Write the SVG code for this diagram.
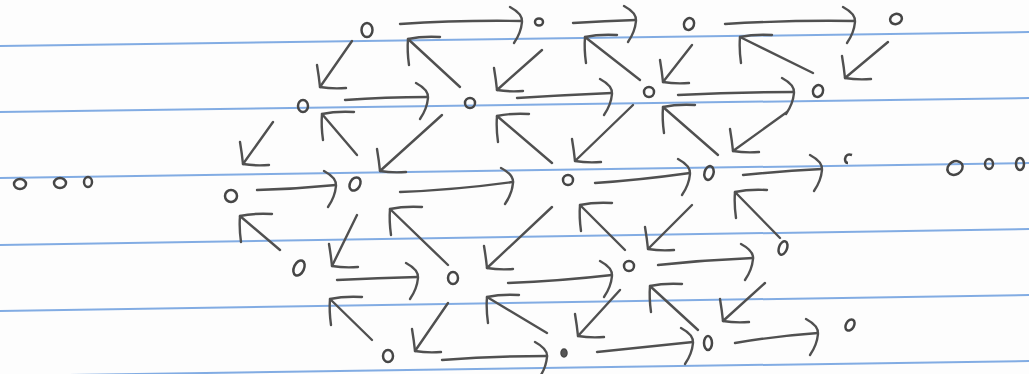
<svg xmlns="http://www.w3.org/2000/svg" width="1029" height="374" viewBox="0 0 1029 374">
  <style>
    .paper { fill: #fdfdfd; }
    .rule { stroke: #74a3e0; stroke-width: 2; fill: none; opacity: 0.9; }
    .node { fill: none; stroke: #464646; stroke-width: 2.5; }
    .dot { fill: #555555; stroke: #464646; stroke-width: 1.5; }
    .edge { fill: none; stroke: #505050; stroke-width: 2.4; stroke-linecap: round; }
    .r { marker-end: url(#curl); }
    .dl { marker-end: url(#headDL); }
    .ul { marker-end: url(#headUL); }
    .mk { fill: none; stroke: #505050; stroke-width: 2.4; stroke-linecap: round; stroke-linejoin: round; }
  </style>
  <defs>
    <marker id="curl" markerUnits="userSpaceOnUse" orient="0" viewBox="-40 -40 80 80" markerWidth="80" markerHeight="80" refX="0" refY="0" overflow="visible">
      <path class="mk" d="M -12,-14 Q 1,-7 0,1 Q -1,12 -8,22"/>
    </marker>
    <marker id="headDL" markerUnits="userSpaceOnUse" orient="0" viewBox="-40 -40 80 80" markerWidth="80" markerHeight="80" refX="0" refY="0" overflow="visible">
      <path class="mk" d="M -3,-22 Q -1,-10 0,0 Q 12,2 26,1"/>
    </marker>
    <marker id="headUL" markerUnits="userSpaceOnUse" orient="0" viewBox="-40 -40 80 80" markerWidth="80" markerHeight="80" refX="0" refY="0" overflow="visible">
      <path class="mk" d="M 1,26 Q -1,12 0,0 Q 14,-3 32,-2"/>
    </marker>
  </defs>

  <rect class="paper" x="0" y="0" width="1029" height="374"/>
  <g id="ruling">
    <line class="rule" x1="0" y1="46" x2="1029" y2="32"/>
    <line class="rule" x1="0" y1="112" x2="1029" y2="98"/>
    <line class="rule" x1="0" y1="178" x2="1029" y2="163"/>
    <line class="rule" x1="0" y1="245" x2="1029" y2="229"/>
    <line class="rule" x1="0" y1="311" x2="1029" y2="295"/>
    <line class="rule" x1="0" y1="376" x2="1029" y2="361"/>
  </g>

  <g id="connectors">
    <!-- horizontal arrows -->
    <path class="edge r" d="M 400,24 Q 460,20 522,21"/>
    <path class="edge r" d="M 573,23 Q 605,21 636,20"/>
    <path class="edge r" d="M 725,24 Q 790,20 855,21"/>
    <path class="edge r" d="M 345,100 Q 385,97 428,97"/>
    <path class="edge r" d="M 517,98 Q 565,95 612,93"/>
    <path class="edge r" d="M 678,95 Q 735,92 794,92"/>
    <path class="edge r" d="M 257,190 Q 296,189 336,185"/>
    <path class="edge r" d="M 400,192 Q 455,190 513,182"/>
    <path class="edge r" d="M 595,183 Q 640,180 690,173"/>
    <path class="edge r" d="M 743,175 Q 782,171 822,169"/>
    <path class="edge r" d="M 337,280 Q 378,278 418,277"/>
    <path class="edge r" d="M 508,283 Q 560,281 612,275"/>
    <path class="edge r" d="M 658,265 Q 705,260 753,258"/>
    <path class="edge r" d="M 442,360 Q 495,356 547,356"/>
    <path class="edge r" d="M 597,352 Q 645,347 693,342"/>
    <path class="edge r" d="M 735,343 Q 776,336 818,333"/>
    <!-- down-left arrows -->
    <line class="edge dl" x1="352" y1="41" x2="320" y2="87"/>
    <line class="edge dl" x1="542" y1="50" x2="497" y2="90"/>
    <line class="edge dl" x1="692" y1="45" x2="663" y2="82"/>
    <line class="edge dl" x1="888" y1="42" x2="845" y2="78"/>
    <line class="edge dl" x1="273" y1="122" x2="243" y2="164"/>
    <line class="edge dl" x1="442" y1="115" x2="380" y2="171"/>
    <line class="edge dl" x1="633" y1="105" x2="575" y2="161"/>
    <line class="edge dl" x1="787" y1="112" x2="733" y2="151"/>
    <line class="edge dl" x1="357" y1="215" x2="332" y2="266"/>
    <line class="edge dl" x1="552" y1="207" x2="487" y2="268"/>
    <line class="edge dl" x1="692" y1="205" x2="648" y2="249"/>
    <line class="edge dl" x1="448" y1="303" x2="415" y2="351"/>
    <line class="edge dl" x1="620" y1="290" x2="578" y2="336"/>
    <line class="edge dl" x1="765" y1="283" x2="723" y2="321"/>
    <!-- up-left arrows -->
    <line class="edge ul" x1="460" y1="87" x2="408" y2="39"/>
    <line class="edge ul" x1="640" y1="80" x2="585" y2="37"/>
    <line class="edge ul" x1="813" y1="73" x2="740" y2="37"/>
    <line class="edge ul" x1="357" y1="155" x2="322" y2="114"/>
    <line class="edge ul" x1="552" y1="163" x2="497" y2="116"/>
    <line class="edge ul" x1="718" y1="155" x2="663" y2="107"/>
    <line class="edge ul" x1="280" y1="250" x2="240" y2="216"/>
    <line class="edge ul" x1="448" y1="265" x2="390" y2="209"/>
    <line class="edge ul" x1="625" y1="250" x2="580" y2="205"/>
    <line class="edge ul" x1="780" y1="238" x2="735" y2="192"/>
    <line class="edge ul" x1="372" y1="340" x2="330" y2="299"/>
    <line class="edge ul" x1="547" y1="333" x2="487" y2="297"/>
    <line class="edge ul" x1="698" y1="330" x2="650" y2="286"/>
  </g>

  <g id="node-A"><ellipse class="node" cx="367" cy="30" rx="5.5" ry="7"/></g>
  <g id="node-B"><ellipse class="node" cx="539" cy="22" rx="4" ry="3.5"/></g>
  <g id="node-C"><ellipse class="node" cx="689" cy="24" rx="5" ry="6" transform="rotate(20 689 24)"/></g>
  <g id="node-D"><ellipse class="node" cx="896" cy="19" rx="6" ry="5" transform="rotate(-20 896 19)"/></g>
  <g id="node-E"><ellipse class="node" cx="303" cy="106" rx="5" ry="6"/></g>
  <g id="node-F"><ellipse class="node" cx="470" cy="103" rx="5" ry="5"/></g>
  <g id="node-G"><ellipse class="node" cx="649" cy="92" rx="5" ry="5"/></g>
  <g id="node-H"><ellipse class="node" cx="818" cy="91" rx="5" ry="6" transform="rotate(20 818 91)"/></g>
  <g id="node-I"><ellipse class="node" cx="231" cy="196" rx="6" ry="6"/></g>
  <g id="node-J"><ellipse class="node" cx="355" cy="184" rx="5" ry="7" transform="rotate(30 355 184)"/></g>
  <g id="node-K"><ellipse class="node" cx="568" cy="180" rx="5" ry="5"/></g>
  <g id="node-L"><ellipse class="node" cx="709" cy="173" rx="4.5" ry="7" transform="rotate(15 709 173)"/></g>
  <g id="node-M"><path class="node" d="M 852,155 Q 846,153 845,159 Q 845,163 848,163"/></g>
  <g id="node-N"><ellipse class="node" cx="299" cy="268" rx="5" ry="8" transform="rotate(25 299 268)"/></g>
  <g id="node-O"><ellipse class="node" cx="453" cy="278" rx="5" ry="6"/></g>
  <g id="node-P"><ellipse class="node" cx="629" cy="266" rx="5" ry="5"/></g>
  <g id="node-Q"><ellipse class="node" cx="783" cy="248" rx="4" ry="7" transform="rotate(20 783 248)"/></g>
  <g id="node-R"><ellipse class="node" cx="388" cy="356" rx="5" ry="6"/></g>
  <g id="node-S"><ellipse class="dot" cx="564" cy="353" rx="3" ry="4"/></g>
  <g id="node-T"><ellipse class="node" cx="708" cy="343" rx="4" ry="7"/></g>
  <g id="node-U"><ellipse class="node" cx="850" cy="325" rx="4" ry="6" transform="rotate(30 850 325)"/></g>

  <g id="ellipsis-left">
    <ellipse class="node" cx="20" cy="184" rx="6" ry="5"/>
    <ellipse class="node" cx="60" cy="183" rx="6" ry="5"/>
    <ellipse class="node" cx="88" cy="182" rx="4" ry="5"/>
  </g>
  <g id="ellipsis-right">
    <ellipse class="node" cx="955" cy="168" rx="8" ry="6.5" transform="rotate(-30 955 168)"/>
    <ellipse class="node" cx="989" cy="164" rx="4" ry="5"/>
    <ellipse class="node" cx="1020" cy="164" rx="4" ry="6"/>
  </g>
</svg>
